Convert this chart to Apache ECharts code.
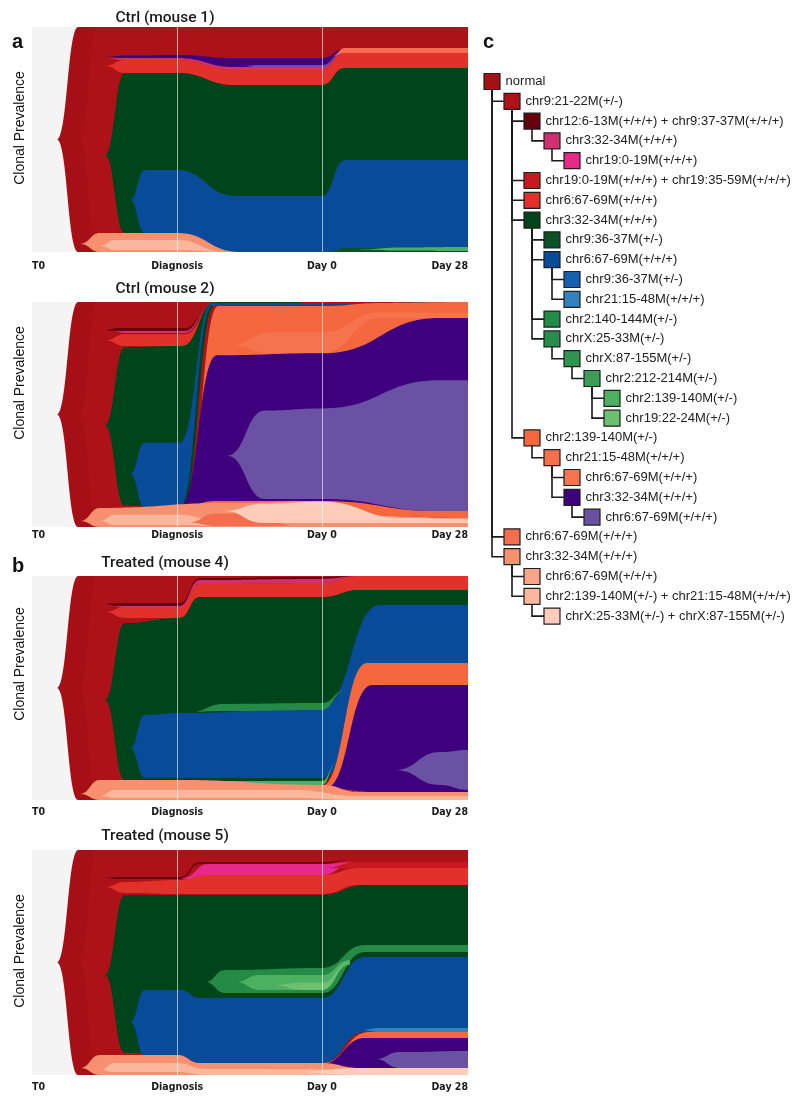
<!DOCTYPE html>
<html>
<head>
<meta charset="utf-8">
<script src="https://cdn.jsdelivr.net/npm/echarts@6/dist/echarts.min.js"></script>
<style>
  html, body { margin: 0; padding: 0; background: #fff; }
  #main { width: 800px; height: 1106px; }
</style>
</head>
<body>
<div id="main"></div>
<script>
// clone tree (panel c), one row per clone
const cloneLabels = [
  'normal',
  'chr9:21-22M(+/-)',
  'chr12:6-13M(+/+/+) + chr9:37-37M(+/+/+)',
  'chr3:32-34M(+/+/+)',
  'chr19:0-19M(+/+/+)',
  'chr19:0-19M(+/+/+) + chr19:35-59M(+/+/+)',
  'chr6:67-69M(+/+/+)',
  'chr3:32-34M(+/+/+)',
  'chr9:36-37M(+/-)',
  'chr6:67-69M(+/+/+)',
  'chr9:36-37M(+/-)',
  'chr21:15-48M(+/+/+)',
  'chr2:140-144M(+/-)',
  'chrX:25-33M(+/-)',
  'chrX:87-155M(+/-)',
  'chr2:212-214M(+/-)',
  'chr2:139-140M(+/-)',
  'chr19:22-24M(+/-)',
  'chr2:139-140M(+/-)',
  'chr21:15-48M(+/+/+)',
  'chr6:67-69M(+/+/+)',
  'chr3:32-34M(+/+/+)',
  'chr6:67-69M(+/+/+)',
  'chr6:67-69M(+/+/+)',
  'chr3:32-34M(+/+/+)',
  'chr6:67-69M(+/+/+)',
  'chr2:139-140M(+/-) + chr21:15-48M(+/+/+)',
  'chrX:25-33M(+/-) + chrX:87-155M(+/-)'
];
const cloneParents = [-1, 0, 1, 2, 3, 1, 1, 1, 7, 7, 9, 9, 7, 7, 13, 14, 15, 15, 1, 18, 19, 19, 21, 0, 0, 24, 24, 26];
const cloneColors = [
  '#a50f15', '#ae1219', '#67000d', '#d0306f', '#e7298a', '#c9181f', '#e2302a',
  '#00441b', '#0b5127', '#084b99', '#1461b0', '#3182bd',
  '#238b45', '#2a8c4a', '#2f944f', '#3a9c57', '#4daf62', '#6cc070',
  '#f4673f', '#f5704a', '#f5744e', '#3f007d', '#6a51a3',
  '#f46d4f', '#f7906f', '#f9a486', '#fbb79c', '#fdcdb9'
];

// time points on the fish plots
const timeLabels = ['T0', 'Diagnosis', 'Day 0', 'Day 28'];
const timeX = [0, 33.3, 66.5, 100];

// fish bands: [clone, x, top %, bottom %]
const mouse1Bands = [
  [0, [5.7, 10.6, 100], [50, 100, 100], [50, 0, 0]],
  [1, [11.0, 14.9, 100], [50, 100, 100], [50, 0, 0]],
  [6, [16.7, 21.3, 33.3, 46.6, 66.5, 71.8, 100], [82.7, 85.3, 85.3, 80.9, 80.9, 88.4, 88.4], [82.7, 79.6, 79.6, 74.2, 74.2, 81.8, 81.8]],
  [3, [16.7, 21.3, 33.3, 46.6, 66.5, 71.8], [86.2, 86.2, 86.2, 82.2, 82.2, 89.3], [86.2, 85.3, 85.3, 80.9, 80.9, 88.4]],
  [21, [16.7, 21.3, 33.3, 46.6, 66.5, 71.8], [86.7, 87.3, 87.6, 86.2, 86.2, 90.2], [86.7, 86.2, 86.2, 82.2, 82.2, 89.3]],
  [22, [47.7, 52.3, 66.5, 71.8], [82.7, 83.1, 83.1, 89.8], [82.7, 82.2, 82.2, 89.6]],
  [23, [68.8, 71.8, 100], [87.1, 90.7, 90.7], [87.1, 88.4, 88.4]],
  [7, [16.7, 21.3, 33.3, 46.6, 66.5, 71.8, 100], [43.1, 79.6, 79.6, 74.2, 74.2, 81.8, 81.8], [43.1, 8.4, 8.4, 0, 0, 0, 0]],
  [9, [22.5, 25.9, 33.3, 46.6, 66.5, 71.8, 100], [23.1, 36.4, 36.4, 24.9, 24.9, 40.9, 40.9], [23.1, 8.4, 8.4, 0, 0, 0, 0]],
  [8, [67.5, 72.0, 100], [0, 1.8, 1.8], [0, 0, 0]],
  [16, [73.4, 85.0, 100], [0.9, 2.0, 2.2], [0.9, 0.7, 0.4]],
  [24, [11.0, 15.6, 33.3, 47.7], [3.6, 8.4, 8.4, 0], [3.6, 0, 0, 0]],
  [26, [15.6, 19.0, 33.3, 44.3], [2.7, 5.3, 5.3, 0], [2.7, 0.9, 0.9, 0]]
];
const mouse2Bands = [
  [0, [5.7, 10.6, 100], [50, 100, 100], [50, 0, 0]],
  [1, [11.0, 14.9, 100], [50, 100, 100], [50, 0, 0]],
  [6, [16.7, 21.3, 35.1, 42.0], [83.0, 85.7, 85.7, 100], [83.0, 80.4, 80.4, 99.6]],
  [2, [16.3, 20.2, 35.1, 41.3], [87.5, 88.4, 88.4, 100], [87.5, 87.1, 87.1, 100]],
  [3, [18.0, 22.0, 35.1, 41.3], [87.1, 87.1, 87.1, 100], [87.1, 86.2, 86.2, 100]],
  [7, [16.7, 21.3, 34.4, 42.0, 61.5], [45.1, 79.9, 80.4, 100, 100], [45.1, 9.4, 9.4, 98.7, 99.6]],
  [9, [22.5, 25.9, 33.9, 41.3, 84.4, 93.6], [23.7, 37.5, 37.5, 99.6, 99.6, 100], [23.7, 8.5, 8.5, 98.2, 98.7, 100]],
  [18, [33.3, 35.1, 42.7, 66.5, 80.0, 100], [8.5, 8.9, 98.2, 98.2, 99.6, 100], [8.5, 8.5, 9.4, 10.7, 4.9, 4.0]],
  [20, [45.4, 55.0, 66.5, 80.0, 100], [80.8, 86.6, 86.6, 95.5, 95.1], [80.8, 77.2, 77.2, 92.9, 92.9]],
  [21, [33.9, 42.4, 66.5, 93.6, 100], [8.9, 76.3, 77.2, 92.9, 92.9], [8.9, 11.6, 11.6, 7.1, 7.1]],
  [22, [44.7, 53.4, 66.5, 93.6, 100], [31.7, 51.8, 52.7, 65.2, 65.2], [31.7, 12.5, 12.5, 7.1, 7.1]],
  [24, [11.0, 15.6, 45.0, 66.5, 80.0, 100], [2.7, 8.5, 10.7, 11.6, 4.9, 4.0], [2.7, 0, 0, 0, 0, 0]],
  [26, [15.6, 19.0, 33.3, 44.3], [2.7, 5.4, 5.4, 2.0], [2.7, 0.9, 0.9, 0.5]],
  [23, [36.0, 42.0, 52.0, 60.0], [2.0, 6.0, 6.0, 0.5], [2.0, 0.5, 0.5, 0.5]],
  [27, [44.0, 53.0, 66.5, 85.0, 100], [7.1, 10.3, 11.2, 4.0, 3.6], [7.1, 1.8, 1.8, 1.8, 1.8]]
];
const mouse4Bands = [
  [0, [5.7, 10.6, 100], [50, 100, 100], [50, 0, 0]],
  [1, [11.0, 14.9, 100], [50, 100, 100], [50, 0, 0]],
  [6, [16.7, 21.3, 33.9, 38.5, 66.5, 75.2, 100], [83.9, 86.2, 86.2, 96.4, 96.9, 100, 100], [83.9, 81.3, 81.3, 90.6, 90.6, 93.8, 93.8]],
  [2, [16.3, 20.2, 33.9, 38.5, 66.5, 75.2], [87.5, 87.9, 87.9, 99.1, 99.6, 100], [87.5, 86.6, 86.6, 98.2, 98.7, 100]],
  [3, [18.0, 22.0, 33.9, 38.5, 66.5, 75.2], [86.6, 86.6, 86.6, 98.2, 98.7, 100], [86.6, 85.7, 85.7, 96.4, 96.9, 100]],
  [7, [16.7, 21.3, 33.9, 38.5, 66.5, 75.2, 100], [44.6, 79.0, 81.3, 90.6, 90.6, 93.8, 93.8], [44.6, 8.9, 8.9, 6.7, 6.7, 61.2, 61.2]],
  [9, [22.5, 25.9, 33.9, 66.5, 79.8, 100], [23.2, 37.9, 38.8, 41.1, 87.1, 87.1], [23.2, 9.8, 9.8, 9.8, 61.2, 61.2]],
  [12, [36.2, 44.0, 66.5, 72.0], [39.3, 42.9, 43.3, 49.1], [39.3, 39.7, 40.2, 49.1]],
  [16, [36.2, 45.0, 66.5, 70.0], [8.0, 8.5, 8.5, 17.0], [8.0, 6.7, 6.7, 17.0]],
  [18, [66.5, 76.8, 100], [6.3, 61.2, 61.2], [6.3, 3.6, 3.6]],
  [21, [67.5, 78.0, 100], [5.4, 51.3, 51.3], [5.4, 3.6, 3.6]],
  [22, [83.3, 93.6, 100], [13.4, 21.4, 22.3], [13.4, 6.7, 4.5]],
  [24, [11.0, 15.6, 33.3, 66.5, 75.0, 100], [2.7, 8.9, 8.9, 6.7, 3.6, 3.6], [2.7, 0, 0, 0, 0, 0]],
  [26, [15.6, 19.0, 60.0, 75.0, 100], [1.8, 4.5, 4.5, 1.8, 1.8], [1.8, 0.9, 0.9, 0, 0]]
];
const mouse5Bands = [
  [0, [5.7, 10.6, 100], [50, 100, 100], [50, 0, 0]],
  [1, [11.0, 14.9, 100], [50, 100, 100], [50, 0, 0]],
  [6, [16.7, 21.3, 33.9, 38.5, 66.5, 75.2, 100], [83.6, 85.8, 86.7, 88.9, 88.9, 92.0, 92.0], [83.6, 80.9, 80.4, 80.4, 80.4, 84.4, 84.4]],
  [2, [16.3, 20.2, 33.9, 38.5, 66.5, 72.9], [87.6, 88.0, 88.0, 94.7, 94.7, 95.6], [87.6, 87.1, 87.1, 93.8, 93.8, 95.6]],
  [4, [34.5, 40.5, 66.5, 74.1], [87.6, 93.8, 93.8, 94.7], [87.1, 88.9, 88.9, 94.7]],
  [5, [66.5, 75.2, 100], [92.0, 94.7, 94.7], [92.0, 92.0, 92.0]],
  [7, [16.7, 21.3, 33.9, 66.5, 76.4, 100], [44.4, 80.0, 80.0, 80.0, 84.4, 84.4], [44.4, 9.8, 8.4, 5.3, 19.1, 19.1]],
  [9, [22.5, 25.9, 33.9, 38.5, 66.5, 76.4, 100], [23.6, 37.8, 37.8, 34.2, 34.2, 52.4, 52.4], [23.6, 8.4, 8.4, 5.3, 5.3, 19.1, 19.1]],
  [11, [75.0, 80.0, 100], [20.0, 20.9, 20.9], [20.0, 19.1, 19.1]],
  [12, [39.7, 44.3, 66.5, 76.4, 100], [41.3, 46.7, 47.6, 57.8, 57.8], [41.3, 36.4, 36.4, 54.7, 54.7]],
  [16, [46.6, 52.3, 66.5, 72.9], [41.3, 44.4, 44.4, 51.1], [41.3, 37.8, 37.8, 48.9]],
  [17, [55.0, 62.0, 66.5, 72.9], [40.0, 41.0, 41.0, 50.2], [40.0, 37.8, 37.8, 49.8]],
  [18, [66.5, 77.5, 100], [5.3, 19.1, 19.1], [5.3, 3.1, 3.1]],
  [21, [66.5, 76.4, 100], [4.9, 16.4, 16.4], [4.9, 3.1, 3.1]],
  [22, [78.7, 84.4, 100], [7.1, 10.2, 10.7], [7.1, 3.1, 3.1]],
  [24, [11.0, 15.6, 33.3, 38.5, 66.5, 75.0, 100], [3.1, 8.9, 8.9, 5.3, 5.3, 3.1, 3.1], [3.1, 0, 0, 0, 0, 0, 0]],
  [26, [15.6, 19.0, 33.0, 40.0, 100], [2.2, 5.3, 5.3, 2.7, 2.2], [2.2, 1.3, 1.3, 0, 0]],
  [27, [60.0, 75.0, 100], [1.3, 3.1, 3.1], [1.3, 0, 0]]
];

// layout of the four fish panels
const panels = [
  { title: 'Ctrl (mouse 1)', bands: mouse1Bands, top: 27, height: 225, titleY: 18, margin: 9, shift: 23 },
  { title: 'Ctrl (mouse 2)', bands: mouse2Bands, top: 302, height: 225, titleY: 289, margin: 3, shift: 63 },
  { title: 'Treated (mouse 4)', bands: mouse4Bands, top: 576, height: 224, titleY: 563, margin: 7, shift: 48 },
  { title: 'Treated (mouse 5)', bands: mouse5Bands, top: 850, height: 225, titleY: 836, margin: 7, shift: 23 }
];

// S-shaped segments between knots (flat tangent at every knot)
function curve(pts) {
  let d = '';
  for (let i = 1; i < pts.length; i++) {
    const a = pts[i - 1], b = pts[i], h = (b[0] - a[0]) * 0.5;
    d += 'C' + (a[0] + h).toFixed(2) + ' ' + a[1].toFixed(2) + ' ' +
      (b[0] - h).toFixed(2) + ' ' + b[1].toFixed(2) + ' ' +
      b[0].toFixed(2) + ' ' + b[1].toFixed(2);
  }
  return d;
}
function bandPath(api, xs, tops, bots) {
  const up = xs.map((x, i) => api.coord([x, tops[i]]));
  const dn = xs.map((x, i) => api.coord([x, bots[i]])).reverse();
  return 'M' + up[0][0].toFixed(2) + ' ' + up[0][1].toFixed(2) + curve(up) +
    'L' + dn[0][0].toFixed(2) + ' ' + dn[0][1].toFixed(2) + curve(dn) + 'Z';
}

const depth = cloneParents.map(function (p, i) {
  let d = 0, q = p;
  while (q >= 0) { d++; q = cloneParents[q]; }
  return d;
});
const treeLinks = [];
cloneParents.forEach(function (p, i) {
  if (p < 0) return;
  treeLinks.push({ coords: [[depth[p], p], [depth[p], i], [depth[i], i]] });
});

const labelFont = "'DejaVu Sans Condensed', 'Liberation Sans', sans-serif";
const grid = [], xAxis = [], yAxis = [], series = [];
panels.forEach(function (p, gi) {
  grid.push({ left: 32, width: 436, top: p.top, height: p.height, show: true,
    backgroundColor: '#f4f4f4', borderWidth: 0 });
  xAxis.push({
    gridIndex: gi, type: 'value', min: 0, max: 100,
    axisLine: { show: false }, axisTick: { show: false }, splitLine: { show: false },
    axisLabel: {
      customValues: timeX, margin: p.margin,
      formatter: function (v) { const k = timeX.indexOf(v); return k < 0 ? '' : timeLabels[k]; },
      fontFamily: labelFont, fontWeight: 'bold', fontSize: 10.5, color: '#1a1a1a',
      alignMinLabel: 'left', alignMaxLabel: 'right', showMinLabel: true, showMaxLabel: true
    }
  });
  yAxis.push({
    gridIndex: gi, type: 'value', min: 0, max: 100,
    axisLine: { show: false }, axisTick: { show: false }, axisLabel: { show: false }, splitLine: { show: false },
    name: 'Clonal Prevalence', nameLocation: 'middle', nameGap: 5,
    nameTextStyle: { fontSize: 14, color: '#111', fontFamily: 'Liberation Sans', padding: [0, 0, 0, p.shift] }
  });
  series.push({
    type: 'custom', xAxisIndex: gi, yAxisIndex: gi, clip: true, silent: true,
    data: p.bands.map(function () { return [0, 0]; }),
    renderItem: function (params, api) {
      const b = p.bands[params.dataIndex];
      return {
        type: 'path',
        shape: { pathData: bandPath(api, b[1], b[2], b[3]) },
        style: { fill: cloneColors[b[0]] }
      };
    },
    markLine: {
      silent: true, symbol: 'none', z: 10, label: { show: false },
      lineStyle: { color: 'rgba(255,255,255,0.6)', width: 1, type: 'solid' },
      data: [{ xAxis: timeX[1] }, { xAxis: timeX[2] }]
    }
  });
});

// tree grid
grid.push({ left: 492, top: 81.5, width: 300, height: 534.6 });
xAxis.push({ gridIndex: 4, type: 'value', min: 0, max: 15, show: false });
yAxis.push({ gridIndex: 4, type: 'value', min: 0, max: 27, inverse: true, show: false });
series.push({
  type: 'lines', coordinateSystem: 'cartesian2d', xAxisIndex: 4, yAxisIndex: 4,
  polyline: true, silent: true, clip: false, z: 2,
  lineStyle: { color: '#1a1a1a', width: 1.6, opacity: 1 },
  data: treeLinks
});
series.push({
  type: 'scatter', xAxisIndex: 4, yAxisIndex: 4, symbol: 'rect', symbolSize: 16,
  clip: false, silent: true, z: 3,
  itemStyle: { borderColor: '#1f1f1f', borderWidth: 1.2, opacity: 1 },
  label: { show: true, position: 'right', distance: 5, formatter: '{b}',
    fontSize: 13, color: '#222', fontFamily: 'Liberation Sans' },
  data: cloneLabels.map(function (name, i) {
    return { name: name, value: [depth[i], i], itemStyle: { color: cloneColors[i] } };
  })
});

const graphic = panels.map(function (p) {
  return { type: 'text', x: 165, y: p.titleY,
    style: { text: p.title, font: '500 15.5px Roboto', fill: '#1a1a1a', align: 'center', verticalAlign: 'middle' } };
});
[['a', 12, 42], ['b', 12, 566], ['c', 483, 42]].forEach(function (t) {
  graphic.push({ type: 'text', x: t[1], y: t[2],
    style: { text: t[0], font: 'bold 20px "Liberation Sans"', fill: '#111', verticalAlign: 'middle' } });
});

const chart = echarts.init(document.getElementById('main'));
chart.setOption({
  animation: false,
  backgroundColor: '#fff',
  textStyle: { fontFamily: 'Liberation Sans' },
  grid: grid,
  xAxis: xAxis,
  yAxis: yAxis,
  graphic: graphic,
  series: series
});
</script>
</body>
</html>
